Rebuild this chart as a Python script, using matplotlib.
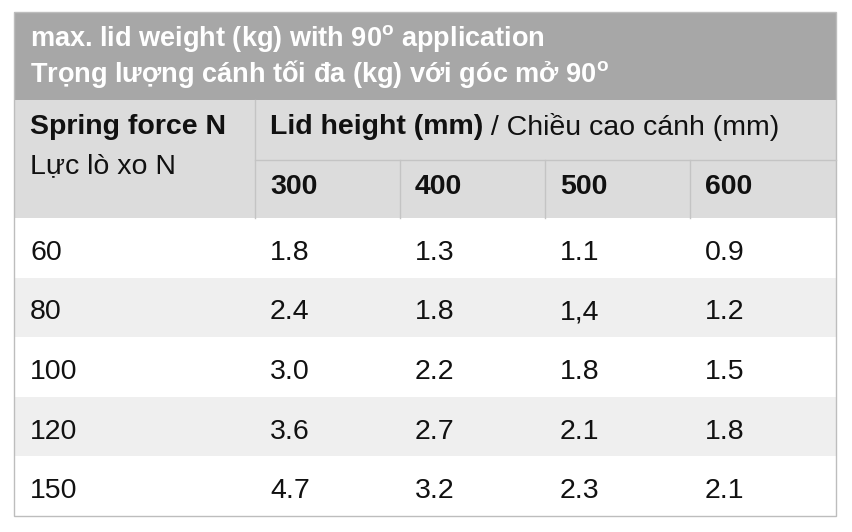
import matplotlib
matplotlib.use("Agg")
import matplotlib.pyplot as plt
from matplotlib.patches import Rectangle

plt.rcParams['font.family'] = ['Liberation Sans', 'DejaVu Sans']
plt.rcParams['mathtext.fontset'] = 'custom'
plt.rcParams['mathtext.rm'] = 'Liberation Sans'
plt.rcParams['mathtext.bf'] = 'Liberation Sans:bold'

title1 = r"max. lid weight (kg) with 90$^{\mathbf{o}}$ application"
title2 = r"Trọng lượng cánh tối đa (kg) với góc mở 90$^{\mathbf{o}}$"
row_head_bold = "Spring force N"
row_head = "Lực lò xo N"
col_head_bold = "Lid height (mm)"
col_head = " / Chiều cao cánh (mm)"
heights = ["300", "400", "500", "600"]
forces = ["60", "80", "100", "120", "150"]
values = [["1.8", "1.3", "1.1", "0.9"],
          ["2.4", "1.8", "1,4", "1.2"],
          ["3.0", "2.2", "1.8", "1.5"],
          ["3.6", "2.7", "2.1", "1.8"],
          ["4.7", "3.2", "2.3", "2.1"]]

fig = plt.figure(figsize=(8.52, 5.32), dpi=100)
ax = fig.add_axes([0, 0, 1, 1])
ax.set_xlim(0, 852); ax.set_ylim(532, 0); ax.axis('off')

L, R = 14, 836
cols = [14, 255, 400, 545, 690, 836]
fs = 20.5
ax.add_patch(Rectangle((L, 12), R - L, 88, color='#a7a7a7', lw=0))
ax.add_patch(Rectangle((L, 100), R - L, 118, color='#dcdcdc', lw=0))
ax.text(30, 39, title1, color='white', fontsize=19.5, fontweight='bold', va='center')
ax.text(30, 74, title2, color='white', fontsize=19.5, fontweight='bold', va='center')
ax.text(30, 127, row_head_bold, fontsize=fs, fontweight='bold', va='center', color='#111')
ax.text(30, 166, row_head, fontsize=fs, va='center', color='#111')
t = ax.text(270, 127, col_head_bold, fontsize=fs, fontweight='bold', va='center', color='#111')
fig.canvas.draw()
bb = t.get_window_extent().transformed(ax.transData.inverted())
ax.text(bb.x1, 127, col_head, fontsize=fs, va='center', color='#111')
ax.plot([255, 255], [100, 218], color='#c4c4c4', lw=1)
ax.plot([255, R], [160, 160], color='#c4c4c4', lw=1)
for i, h in enumerate(heights):
    ax.text(cols[i + 1] + 15, 187, h, fontsize=fs, fontweight='bold', va='center', color='#111')
    if i > 0:
        ax.plot([cols[i + 1]] * 2, [160, 218], color='#c4c4c4', lw=1)
rh = 59.6
for r, f in enumerate(forces):
    y0 = 218 + r * rh
    if r % 2 == 1:
        ax.add_patch(Rectangle((L, y0), R - L, rh, color='#efefef', lw=0))
    yc = y0 + rh / 2 + 5
    ax.text(30, yc, f, fontsize=fs, va='center', color='#111')
    for i, v in enumerate(values[r]):
        ax.text(cols[i + 1] + 15, yc, v, fontsize=fs, va='center', color='#111')
ax.add_patch(Rectangle((L, 12), R - L, 504, fill=False, ec='#bdbdbd', lw=1))
fig.savefig("out.png", dpi=100)
